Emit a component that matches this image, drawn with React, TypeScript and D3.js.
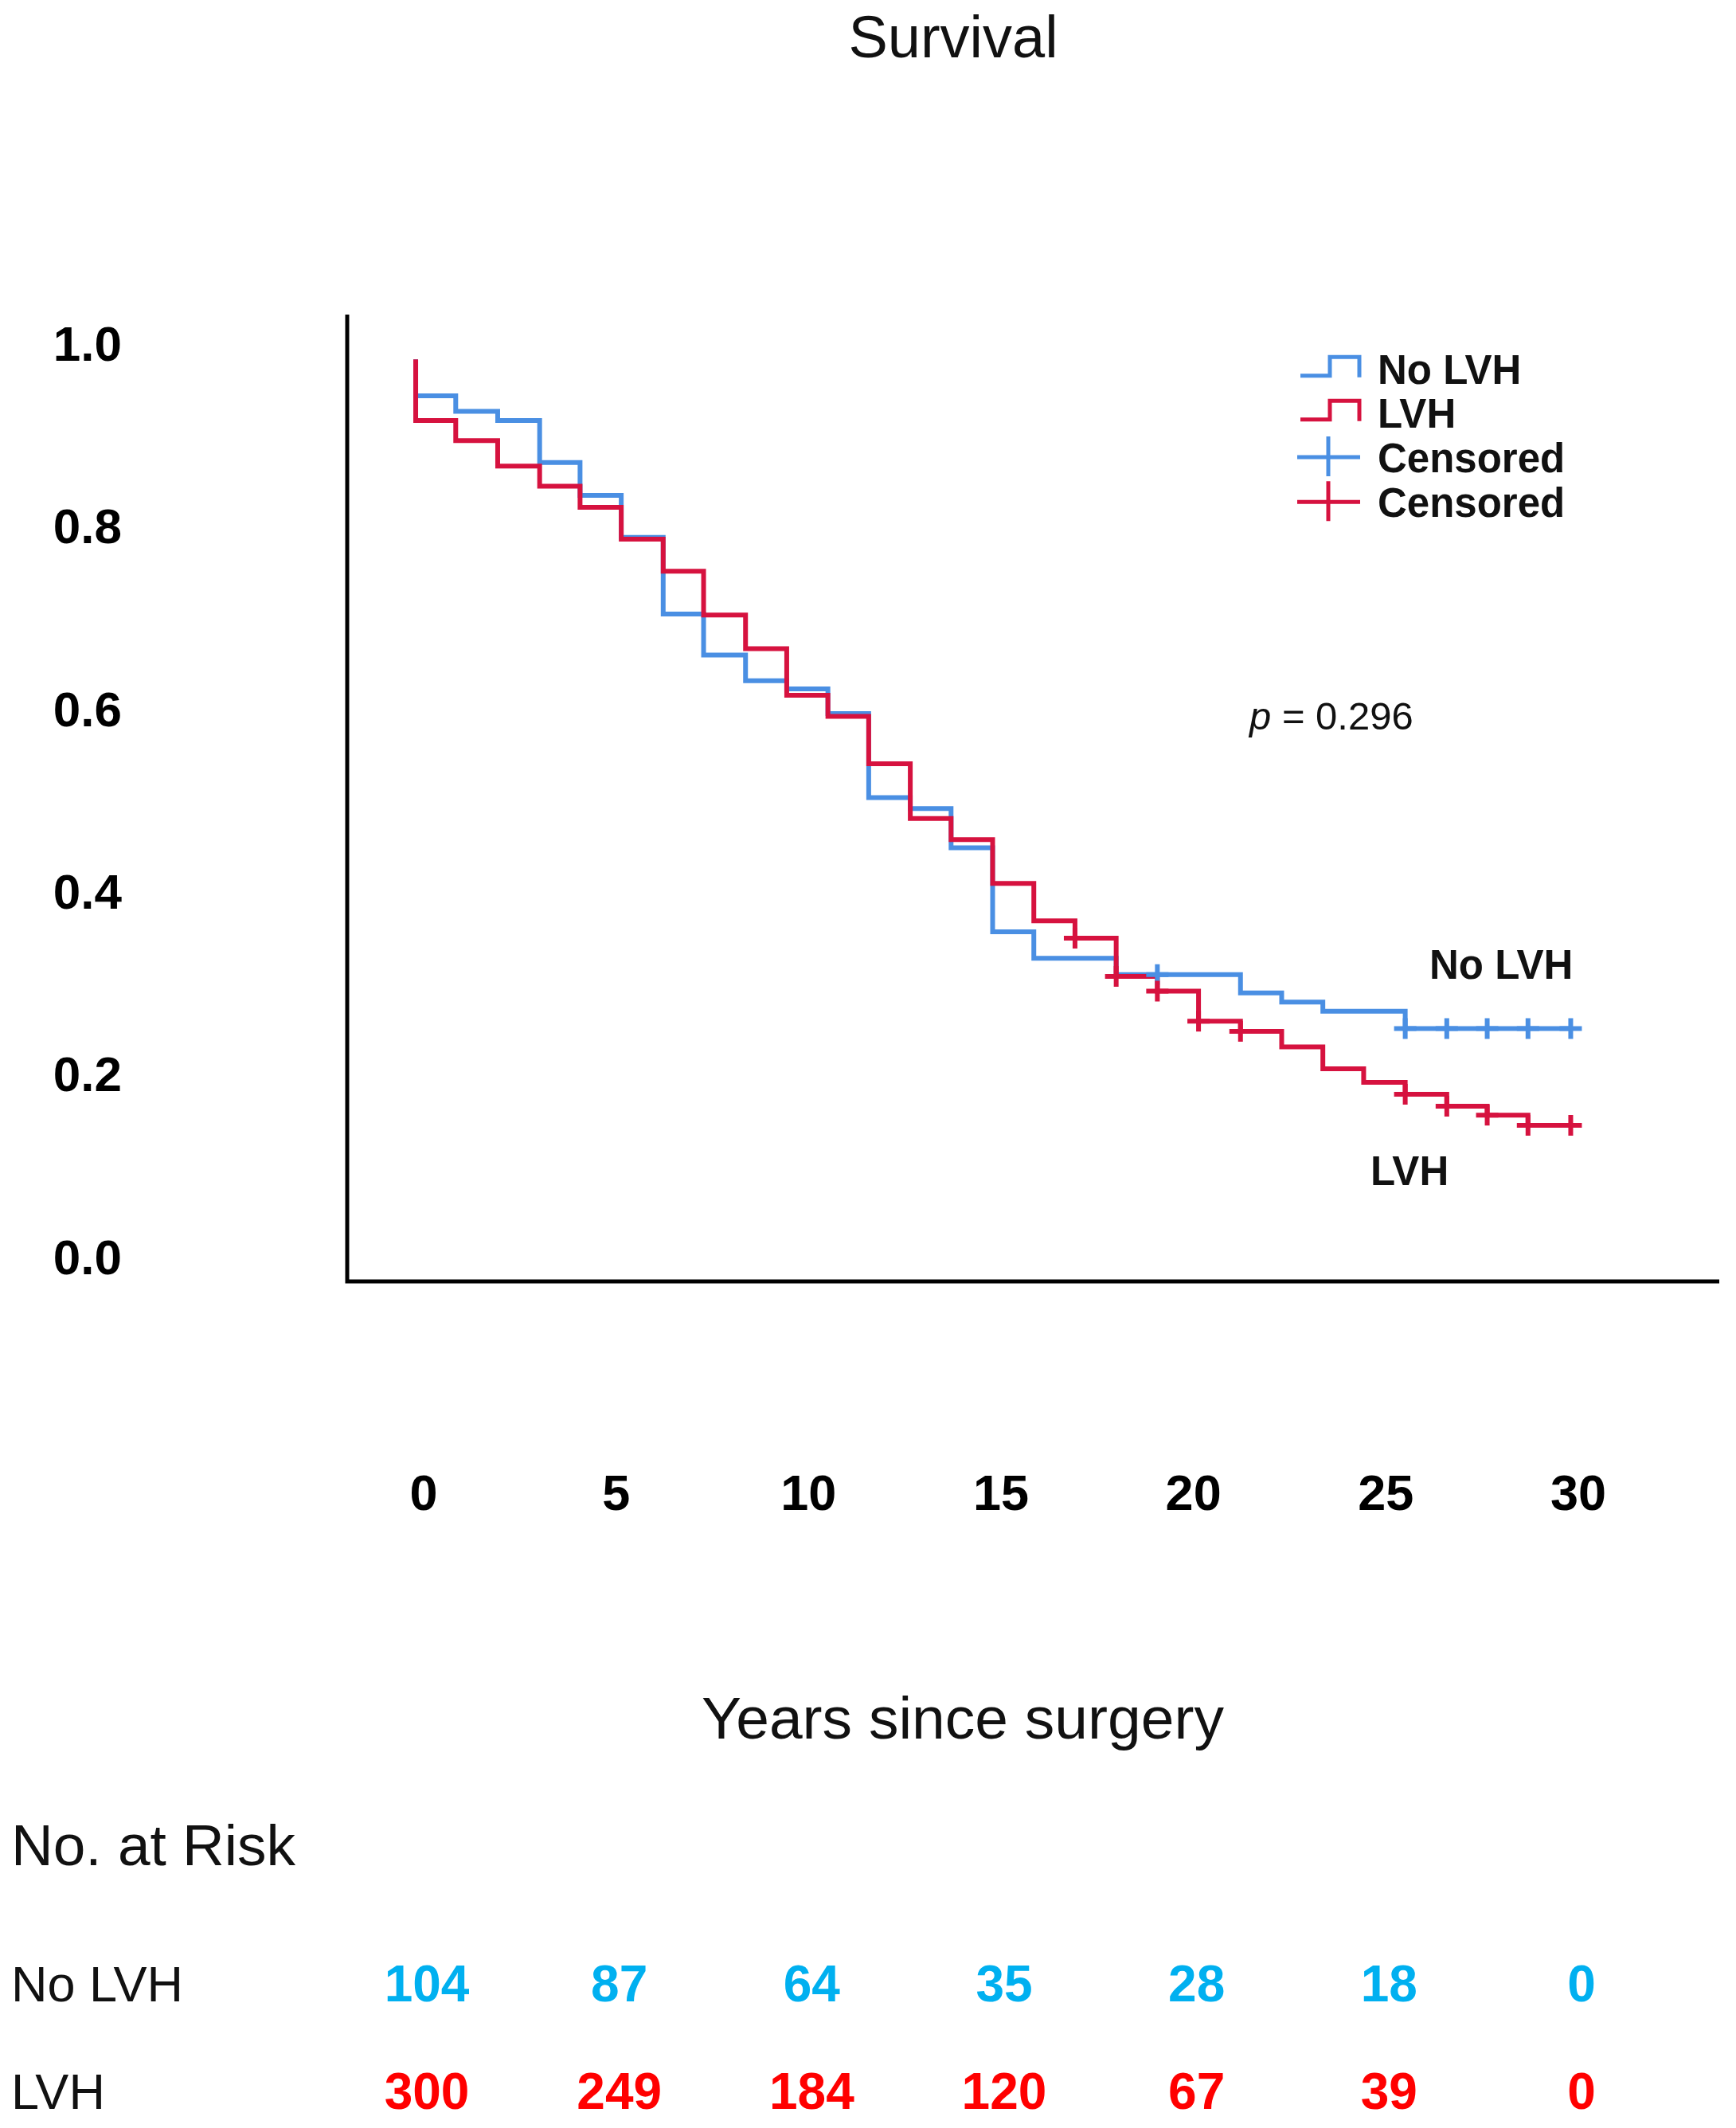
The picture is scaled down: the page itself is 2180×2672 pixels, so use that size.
import React from "react";
import * as d3 from "d3";

// ---- Data ----
const NOLVH_TIMES = [0, 0, 1.04, 2.13, 3.22, 4.27, 5.34, 6.43, 7.48, 8.57, 9.64, 10.71, 11.77, 12.85, 13.91, 14.99, 16.06, 18.2, 19.27, 21.43, 22.5, 23.57, 25.71, 26.79, 27.84, 28.9, 30.01];
const NOLVH_SURV = [1.0, 0.96, 0.943, 0.933, 0.887, 0.851, 0.805, 0.721, 0.676, 0.648, 0.639, 0.612, 0.52, 0.508, 0.465, 0.373, 0.344, 0.326, 0.326, 0.306, 0.296, 0.286, 0.267, 0.267, 0.267, 0.267, 0.267];
const LVH_TIMES = [0, 0, 1.04, 2.13, 3.22, 4.27, 5.34, 6.43, 7.48, 8.57, 9.64, 10.71, 11.77, 12.85, 13.91, 14.99, 16.06, 17.13, 18.2, 19.27, 20.34, 21.43, 22.5, 23.57, 24.63, 25.71, 26.79, 27.84, 28.9, 30.01];
const LVH_SURV = [1.0, 0.933, 0.911, 0.883, 0.861, 0.838, 0.803, 0.768, 0.72, 0.683, 0.632, 0.609, 0.557, 0.497, 0.474, 0.426, 0.385, 0.366, 0.324, 0.308, 0.275, 0.264, 0.247, 0.223, 0.208, 0.195, 0.182, 0.172, 0.161, 0.161];
const NOLVH_CENSOR = [19.27, 25.71, 26.79, 27.84, 28.9, 30.01];
const LVH_CENSOR = [17.13, 18.2, 19.27, 20.34, 21.43, 25.71, 26.79, 27.84, 28.9, 30.01];

const Y_TICKS = [0, 0.2, 0.4, 0.6, 0.8, 1.0];
const X_TICKS = [0, 5, 10, 15, 20, 25, 30];
const RISK_TIMES = [0, 5, 10, 15, 20, 25, 30];
const NOLVH_RISK = [104, 87, 64, 35, 28, 18, 0];
const LVH_RISK = [300, 249, 184, 120, 67, 39, 0];

const GROUPS = ["No LVH", "LVH"];
const TITLE = "Survival";
const X_TITLE = "Years since surgery";
const P_VALUE = "0.296";

// ---- Styles ----
const W = 2180;
const H = 2672;
const FONT = "'Liberation Sans', Arial, Helvetica, sans-serif";
const BLUE = "#4a8fe3";
const RED = "#d6123f";
const RISK_BLUE = "#00b0f0";
const RISK_RED = "#ff0000";

const X_DOMAIN: [number, number] = [-1.78, 33.87];
const Y_DOMAIN: [number, number] = [-0.01, 1.049];

function survAt(times: number[], surv: number[], t: number) {
  let v = surv[0];
  for (let i = 0; i < times.length; i++) if (times[i] <= t + 1e-9) v = surv[i];
  return v;
}

export default function App() {
  const xs = d3.scaleLinear().domain(X_DOMAIN).range([436, 2159]);
  const ys = d3.scaleLinear().domain(Y_DOMAIN).range([1609, 395]);

  const line = d3
    .line<[number, number]>()
    .x((d) => xs(d[0]))
    .y((d) => ys(d[1]))
    .curve(d3.curveStepAfter);

  const blueData = NOLVH_TIMES.map((t, i) => [t, NOLVH_SURV[i]] as [number, number]);
  const redData = LVH_TIMES.map((t, i) => [t, LVH_SURV[i]] as [number, number]);

  const cross = (t: number, s: number, color: string, key: string) => {
    const cx = xs(t);
    const cy = ys(s);
    return (
      <path
        key={key}
        d={`M${cx - 14},${cy}H${cx + 14}M${cx},${cy - 13}V${cy + 13}`}
        stroke={color}
        strokeWidth={6}
        fill="none"
      />
    );
  };

  const legendRows = [
    { label: GROUPS[0], color: BLUE, kind: "step", base: 481.7 },
    { label: GROUPS[1], color: RED, kind: "step", base: 536.7 },
    { label: "Censored", color: BLUE, kind: "cross", base: 592.7 },
    { label: "Censored", color: RED, kind: "cross", base: 649 },
  ];

  return (
    <svg
      width={W}
      height={H}
      viewBox={`0 0 ${W} ${H}`}
      style={{ position: "absolute", left: 0, top: 0, background: "#fff" }}
      fontFamily={FONT}
    >
      <rect width={W} height={H} fill="#fff" />
      {/* Title */}
      <text x={1197} y={72} fontSize={74} textAnchor="middle" fill="#111">
        {TITLE}
      </text>

      {/* Axes */}
      <path
        d={`M${xs(X_DOMAIN[0])},${ys(Y_DOMAIN[1])}V${ys(Y_DOMAIN[0])}H${xs(X_DOMAIN[1])}`}
        stroke="#000"
        strokeWidth={5}
        fill="none"
      />

      {/* Y tick labels */}
      {Y_TICKS.map((v) => (
        <text key={v} x={153} y={ys(v) + 2} fontSize={62} fontWeight="bold" textAnchor="end" fill="#000">
          {v.toFixed(1)}
        </text>
      ))}

      {/* X tick labels */}
      {X_TICKS.map((v) => (
        <text key={v} x={xs(v) + 10} y={1896} fontSize={63} fontWeight="bold" textAnchor="middle" fill="#000">
          {v}
        </text>
      ))}

      {/* Curves */}
      <path d={line(blueData) || ""} stroke={BLUE} strokeWidth={6} fill="none" />
      <path d={line(redData) || ""} stroke={RED} strokeWidth={6} fill="none" />
      {NOLVH_CENSOR.map((t, i) => cross(t, survAt(NOLVH_TIMES, NOLVH_SURV, t), BLUE, "b" + i))}
      {LVH_CENSOR.map((t, i) => cross(t, survAt(LVH_TIMES, LVH_SURV, t), RED, "r" + i))}

      {/* Legend */}
      {legendRows.map((r, i) => (
        <g key={i}>
          {r.kind === "step" ? (
            <path
              d={`M1633,${r.base - 10}H1670V${r.base - 33.4}H1707V${r.base - 8}`}
              stroke={r.color}
              strokeWidth={5}
              fill="none"
            />
          ) : (
            <path
              d={`M1629,${r.base - 18.7}H1708M1668,${r.base - 44.7}V${r.base + 5.3}`}
              stroke={r.color}
              strokeWidth={5}
              fill="none"
            />
          )}
          <text x={1730} y={r.base} fontSize={51} fontWeight="bold" fill="#111">
            {r.label}
          </text>
        </g>
      ))}

      {/* p value */}
      <text x={1569} y={916} fontSize={49} fill="#111">
        <tspan fontStyle="italic">p</tspan>
        {" = " + P_VALUE}
      </text>

      {/* Curve labels */}
      <text x={1795} y={1229} fontSize={51} fontWeight="bold" fill="#111">
        {GROUPS[0]}
      </text>
      <text x={1721} y={1488} fontSize={51} fontWeight="bold" fill="#111">
        {GROUPS[1]}
      </text>

      {/* X title */}
      <text x={1209} y={2183} fontSize={75} textAnchor="middle" fill="#111">
        {X_TITLE}
      </text>

      {/* Number at risk */}
      <text x={14} y={2342} fontSize={73} fill="#111">
        No. at Risk
      </text>
      <text x={14} y={2513} fontSize={63} fill="#111">
        {GROUPS[0]}
      </text>
      <text x={14} y={2648} fontSize={63} fill="#111">
        {GROUPS[1]}
      </text>
      {RISK_TIMES.map((t, i) => (
        <text key={"nb" + i} x={xs(t) + 14} y={2513} fontSize={64} fontWeight="bold" textAnchor="middle" fill={RISK_BLUE}>
          {NOLVH_RISK[i]}
        </text>
      ))}
      {RISK_TIMES.map((t, i) => (
        <text key={"nr" + i} x={xs(t) + 14} y={2648} fontSize={64} fontWeight="bold" textAnchor="middle" fill={RISK_RED}>
          {LVH_RISK[i]}
        </text>
      ))}
    </svg>
  );
}
